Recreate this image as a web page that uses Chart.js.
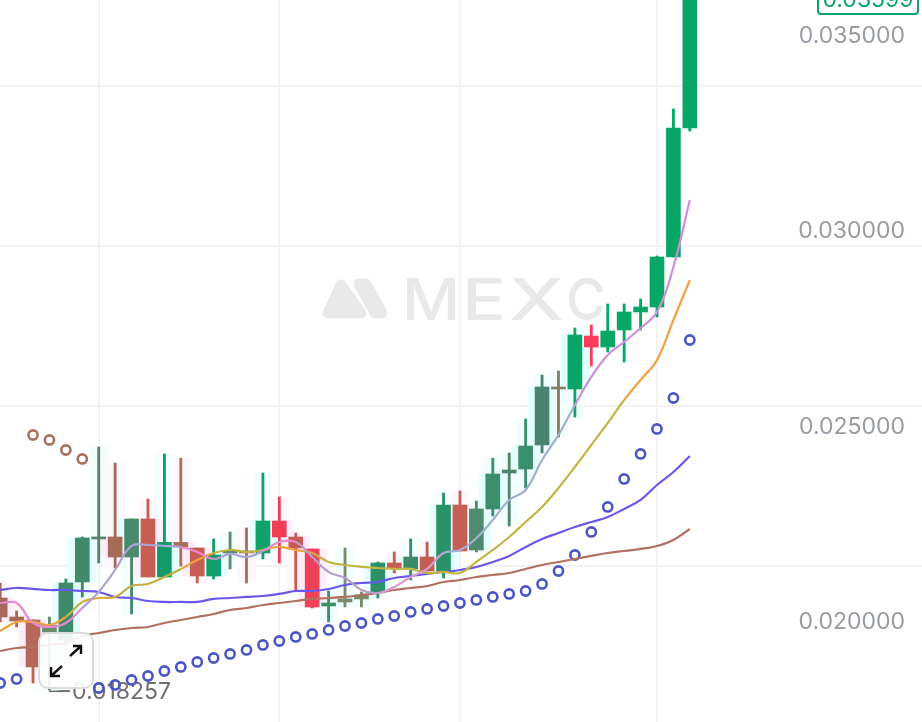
<!DOCTYPE html>
<html>
<head>
<meta charset="utf-8">
<title>MEXC chart</title>
<script src="https://cdn.jsdelivr.net/npm/chart.js@4/dist/chart.umd.min.js"></script>
<style>
  html, body { margin: 0; padding: 0; background: #fff; }
  canvas { display: block; }
</style>
</head>
<body>
<canvas id="klineChart" width="922" height="722"></canvas>
<script>
const candleIndex = Array.from({ length: 43 }, (_, i) => i);

const candleOpen = [
  0.020615, 0.020129, 0.020052, 0.019745, 0.019540, 0.021025, 0.022126, 0.022177, 0.021665, 0.022638, 0.021153,
  0.022038, 0.021895, 0.021178, 0.021767, 0.021818, 0.021767, 0.022586, 0.022177, 0.021870, 0.020410, 0.020513,
  0.020590, 0.020769, 0.021511, 0.021358, 0.021665, 0.021306, 0.022996, 0.021844, 0.022894, 0.023815, 0.023918,
  0.024532, 0.025966, 0.025966, 0.027322, 0.027041, 0.027476, 0.027937, 0.028065, 0.029345, 0.032647,
];
const candleClose = [
  0.020129, 0.020026, 0.018849, 0.019924, 0.020999, 0.022151, 0.022177, 0.021665, 0.022638, 0.021153, 0.022038,
  0.021921, 0.021178, 0.021716, 0.021818, 0.021767, 0.022586, 0.022177, 0.021895, 0.020385, 0.020487, 0.020590,
  0.020692, 0.021511, 0.021383, 0.021665, 0.021306, 0.022996, 0.021818, 0.022894, 0.023790, 0.023892, 0.024506,
  0.026017, 0.026017, 0.027348, 0.027041, 0.027450, 0.027937, 0.028065, 0.029345, 0.032647, 0.035990,
];
const candleLow = [
  0.020001, 0.019873, 0.018439, 0.018257, 0.019412, 0.020641, 0.021511, 0.021383, 0.020206, 0.021153, 0.021153,
  0.021434, 0.020999, 0.021102, 0.021358, 0.020999, 0.021614, 0.021511, 0.020820, 0.020359, 0.020001, 0.020385,
  0.020385, 0.020615, 0.021255, 0.021076, 0.021306, 0.021127, 0.021818, 0.021793, 0.022714, 0.022458, 0.023431,
  0.024327, 0.024737, 0.025249, 0.026554, 0.026913, 0.026657, 0.027476, 0.027809, 0.029345, 0.032570,
];
const candleHigh = [
  0.020999, 0.020282, 0.020052, 0.020129, 0.021102, 0.022177, 0.024481, 0.024071, 0.022638, 0.023150, 0.024302,
  0.024194, 0.021895, 0.022126, 0.022305, 0.022407, 0.023815, 0.023201, 0.022279, 0.021870, 0.020794, 0.021895,
  0.020769, 0.021537, 0.021793, 0.022126, 0.022049, 0.023303, 0.023354, 0.023098, 0.024194, 0.024327, 0.025198,
  0.026324, 0.026426, 0.027527, 0.027604, 0.028142, 0.028142, 0.028270, 0.029370, 0.033134, 0.035990,
];

const ma5Values = [
  0.020487, 0.020487, 0.019975, 0.019873, 0.019975, 0.020359, 0.020769, 0.021332, 0.021946, 0.021972, 0.021946,
  0.021921, 0.021793, 0.021614, 0.021742, 0.021665, 0.021818, 0.022049, 0.022049, 0.021665, 0.021281, 0.021127,
  0.020820, 0.020743, 0.020897, 0.021153, 0.021358, 0.021767, 0.021844, 0.022151, 0.022612, 0.023124, 0.023380,
  0.024148, 0.024788, 0.025556, 0.026273, 0.026836, 0.027169, 0.027527, 0.027937, 0.029089, 0.030804,
];
const ma10Values = [
  0.019770, 0.020001, 0.020001, 0.019924, 0.020129, 0.020513, 0.020615, 0.020641, 0.020922, 0.020974, 0.021153,
  0.021358, 0.021588, 0.021767, 0.021844, 0.021793, 0.021844, 0.021921, 0.021844, 0.021767, 0.021537, 0.021460,
  0.021409, 0.021383, 0.021358, 0.021358, 0.021255, 0.021281, 0.021255, 0.021537, 0.021844, 0.022177, 0.022560,
  0.022945, 0.023431, 0.023969, 0.024532, 0.025095, 0.025684, 0.026196, 0.026708, 0.027732, 0.028756,
];
const ma20Values = [
  0.020820, 0.020871, 0.020846, 0.020820, 0.020820, 0.020794, 0.020769, 0.020641, 0.020615, 0.020538, 0.020513,
  0.020513, 0.020513, 0.020590, 0.020615, 0.020641, 0.020666, 0.020718, 0.020794, 0.020794, 0.020846, 0.020948,
  0.020999, 0.021025, 0.021127, 0.021178, 0.021230, 0.021281, 0.021332, 0.021409, 0.021537, 0.021692, 0.021921,
  0.022126, 0.022279, 0.022433, 0.022560, 0.022689, 0.022894, 0.023124, 0.023508, 0.023841, 0.024250,
];
const ma30Values = [
  0.019258, 0.019335, 0.019361, 0.019412, 0.019463, 0.019642, 0.019719, 0.019796, 0.019847, 0.019873, 0.019975,
  0.020052, 0.020129, 0.020206, 0.020308, 0.020359, 0.020436, 0.020487, 0.020538, 0.020590, 0.020615, 0.020641,
  0.020692, 0.020743, 0.020820, 0.020871, 0.020922, 0.021025, 0.021076, 0.021153, 0.021204, 0.021255, 0.021358,
  0.021460, 0.021537, 0.021614, 0.021692, 0.021767, 0.021818, 0.021870, 0.021946, 0.022100, 0.022382,
];

const sarBelow = [
  0.018439, 0.018542, null, null, null, null, 0.018311, 0.018388, 0.018516, 0.018618, 0.018746,
  0.018849, 0.018977, 0.019079, 0.019182, 0.019284, 0.019412, 0.019514, 0.019617, 0.019694, 0.019796, 0.019898,
  0.019975, 0.020078, 0.020154, 0.020257, 0.020334, 0.020410, 0.020487, 0.020564, 0.020641, 0.020718, 0.020794,
  0.020974, 0.021306, 0.021716, 0.022305, 0.022945, 0.023662, 0.024302, 0.024942, 0.025735, 0.027220,
];
const sarAbove = [null, null, 0.024788, 0.024660, 0.024404, 0.024174];

const priceTicks = [0.02, 0.025, 0.03, 0.035];
const gridPrices = [0.021434, 0.025530, 0.029626, 0.033723];
const gridCandles = [6, 17, 28, 40];
const lastPriceLabel = '0.03599';
const lowPriceLabel = '0.018257';
const lowPrice = 0.018257;

const candleColors = [
  '#a9695a', '#a9695a', '#b5685a', '#6a8a6e', '#3f8a6a', '#3f8a6a', '#5d7f6a', '#a56b57', '#4a8a6c', '#c75e52', '#139a6a',
  '#a8705c', '#c95c52', '#149e6a', '#5f8a70', '#a8705c', '#12a16b', '#ee3f55', '#c95c52', '#ee4057', '#3f8f68', '#7c8a6c',
  '#7c8a6c', '#2c9169', '#c35e52', '#3c8a68', '#bf5f52', '#2a9268', '#c45f55', '#4f8a6e', '#3a8f6c', '#4f8468', '#3a8f6e',
  '#4a8470', '#8a7c62', '#0ba567', '#ff3b5c', '#09a766', '#09a766', '#09a766', '#09a766', '#09a766', '#09a766',
];
const risingCandle = candleIndex.map(i => candleClose[i] >= candleOpen[i]);

// colour of each line per stretch of candles: [last candle, colour]
const ma5Tints = [[5, '#e58ad2'], [11, '#aba4d6'], [13, '#ee88d2'], [16, '#aaa4d6'], [18, '#ea8cd2'], [23, '#b4a0cc'], [27, '#d89ad0'], [35, '#a2aed2'], [42, '#cc90dc']];
const ma10Tints = [[4, '#efa23a'], [5, '#b8b848'], [7, '#d9ab3e'], [11, '#bfae42'], [13, '#f0a13a'], [16, '#b9b640'], [19, '#efa23f'], [38, '#c4b545'], [42, '#f2a243']];
const tintAt = (tints, i) => tints.find(t => i < t[0])?.[1] ?? tints[tints.length - 1][1];

const xy = values => candleIndex.map(i => ({ x: i, y: values[i] ?? null }));
const floating = (from, to) => candleIndex.map(i => ({ x: i, y: [from[i], to[i]] }));
const haloColors = (rising, falling) => candleIndex.map(i => i > 35 ? 'rgba(0,0,0,0)' : risingCandle[i] ? rising : falling);

const lineDataset = (label, values, color, order, segment) => ({
  type: 'line',
  label,
  data: xy(values),
  borderColor: color,
  borderWidth: 2.2,
  pointRadius: 0,
  tension: 0.4,
  order,
  segment,
});

const sarDataset = (label, values, color, order) => ({
  type: 'line',
  label,
  data: xy(values),
  showLine: false,
  pointRadius: 4.6,
  pointBorderWidth: 2.6,
  pointBorderColor: color,
  pointBackgroundColor: 'rgba(255,255,255,0)',
  order,
});

const barDataset = (label, data, color, barThickness, order) => ({
  label,
  data,
  backgroundColor: color,
  barThickness,
  grouped: false,
  order,
});

// axes sit inside the picture: no room taken, the plot fills the whole canvas
const noRoom = (scale, side) => {
  scale[side] = 0;
  scale.paddingTop = scale.paddingBottom = scale.paddingLeft = scale.paddingRight = 0;
};

const gridOnly = (values, color) => ({
  display: true,
  border: { display: false },
  ticks: { display: false, autoSkip: false },
  grid: { color, lineWidth: 2, drawTicks: false, offset: false },
  afterBuildTicks: scale => { scale.ticks = values.map(value => ({ value })); },
});

// one watermark letter, stretched to the width it has in the logo
const logoLetter = (ctx, letter, x, width) => {
  ctx.save();
  ctx.translate(x, 320);
  ctx.scale(width / ctx.measureText(letter).width, 1);
  ctx.fillText(letter, 0, 0);
  ctx.restore();
};

const decorations = {
  id: 'decorations',
  beforeDatasetsDraw(chart) {
    const { ctx, scales } = chart;
    ctx.save();

    // watermark
    ctx.fillStyle = '#e9e9e9';
    ctx.strokeStyle = '#e9e9e9';
    ctx.lineJoin = 'round';
    ctx.lineWidth = 11;
    ctx.beginPath();
    ctx.moveTo(341, 285);
    ctx.lineTo(328, 313);
    ctx.lineTo(361, 313);
    ctx.closePath();
    ctx.moveTo(359, 284);
    ctx.lineTo(366, 284);
    ctx.lineTo(382, 313);
    ctx.lineTo(375, 313);
    ctx.closePath();
    ctx.fill();
    ctx.stroke();
    ctx.font = '500 58px Inter';
    ctx.textBaseline = 'alphabetic';
    ctx.textAlign = 'left';
    logoLetter(ctx, 'M', 402, 58);
    logoLetter(ctx, 'E', 462, 44);
    logoLetter(ctx, 'X', 509, 55);
    logoLetter(ctx, 'C', 566, 40);

    // lowest price marker
    const lowY = scales.y.getPixelForValue(lowPrice) + 1;
    ctx.fillStyle = '#6d6f73';
    ctx.fillRect(49, lowY - 1, 21, 2);
    ctx.font = '23px Inter';
    ctx.textBaseline = 'middle';
    ctx.fillText(lowPriceLabel, 72, lowY + 1);
    ctx.restore();
  },
  afterDatasetsDraw(chart) {
    const { ctx } = chart;
    ctx.save();

    // last price badge
    ctx.beginPath();
    ctx.roundRect(818, -14, 100, 28, 3);
    ctx.fillStyle = '#fff';
    ctx.fill();
    ctx.lineWidth = 2;
    ctx.strokeStyle = '#0ea36b';
    ctx.stroke();
    ctx.fillStyle = '#0ea36b';
    ctx.font = '23px Inter';
    ctx.textAlign = 'center';
    ctx.textBaseline = 'middle';
    ctx.fillText(lastPriceLabel, 868, 0);

    // expand button
    ctx.beginPath();
    ctx.roundRect(39, 633, 54, 55, 9);
    ctx.fillStyle = 'rgba(255,255,255,0.9)';
    ctx.fill();
    ctx.lineWidth = 2;
    ctx.strokeStyle = '#dedcde';
    ctx.stroke();
    ctx.strokeStyle = '#111';
    ctx.lineWidth = 2.4;
    ctx.beginPath();
    ctx.moveTo(70, 656);
    ctx.lineTo(81, 646);
    ctx.moveTo(73, 646);
    ctx.lineTo(81, 646);
    ctx.lineTo(81, 654);
    ctx.moveTo(62, 666);
    ctx.lineTo(51, 676);
    ctx.moveTo(51, 667);
    ctx.lineTo(51, 676);
    ctx.lineTo(60, 676);
    ctx.stroke();
    ctx.restore();
  },
};

new Chart(document.getElementById('klineChart'), {
  type: 'bar',
  data: {
    datasets: [
      lineDataset('MA5', ma5Values, '#cc90dc', 1, { borderColor: c => tintAt(ma5Tints, c.p0DataIndex) }),
      lineDataset('MA10', ma10Values, '#f2a243', 2, { borderColor: c => tintAt(ma10Tints, c.p0DataIndex) }),
      lineDataset('MA20', ma20Values, '#6a58ec', 3),
      lineDataset('MA30', ma30Values, '#b2705f', 4),
      sarDataset('SAR up', sarBelow, '#4a55c6', 5),
      sarDataset('SAR down', sarAbove, '#a8705f', 5),
      barDataset('Body', floating(candleOpen, candleClose), candleColors, 14, 6),
      barDataset('Wick', floating(candleLow, candleHigh), candleColors, 2.2, 7),
      barDataset('Body glow', floating(candleOpen, candleClose), haloColors('#e4fffe', '#ffeefa'), 28, 8),
      barDataset('Wick glow', floating(candleLow, candleHigh), haloColors('#f3fffe', '#fff7fc'), 18, 9),
    ],
  },
  plugins: [decorations],
  options: {
    responsive: false,
    animation: false,
    layout: { padding: 0, autoPadding: false },
    plugins: { legend: { display: false }, tooltip: { enabled: false } },
    scales: {
      x: {
        type: 'linear',
        min: -0.012,
        max: 56.14,
        offset: false,
        ...gridOnly(gridCandles, '#f3f3f5'),
        afterFit: scale => noRoom(scale, 'height'),
      },
      yGrid: {
        type: 'linear',
        position: 'left',
        min: 0.01744,
        max: 0.035924,
        ...gridOnly(gridPrices, '#f3f3f5'),
        afterFit: scale => noRoom(scale, 'width'),
      },
      y: {
        type: 'linear',
        position: 'right',
        min: 0.01744,
        max: 0.035924,
        border: { display: false },
        grid: { display: false },
        ticks: {
          mirror: true,
          padding: -17,
          autoSkip: false,
          color: '#989ba5',
          font: { family: 'Inter', size: 23 },
          callback: value => value.toFixed(6),
        },
        afterBuildTicks: scale => { scale.ticks = priceTicks.map(value => ({ value })); },
        afterFit: scale => noRoom(scale, 'width'),
      },
    },
  },
});
</script>
</body>
</html>
